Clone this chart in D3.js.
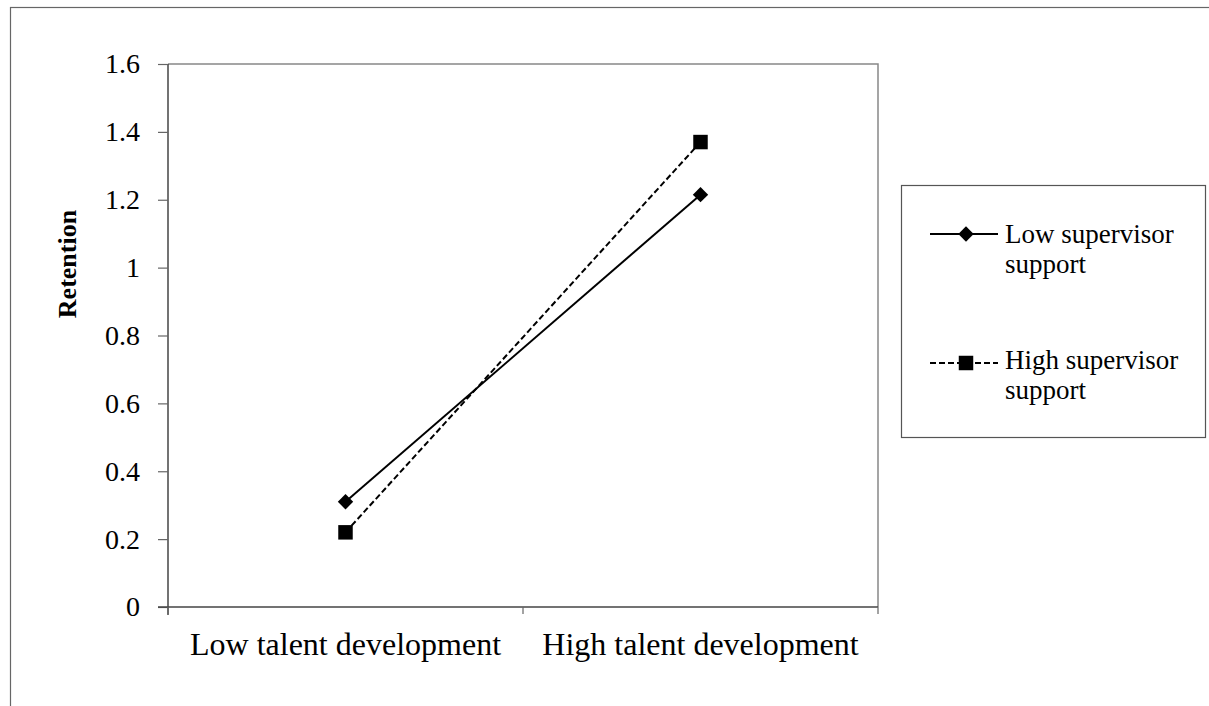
<!DOCTYPE html>
<html>
<head>
<meta charset="utf-8">
<script src="https://cdn.jsdelivr.net/npm/d3@7"></script>
<style>
  body { margin: 0; background: #fff; }
  svg { display: block; font-family: "Liberation Serif", "Times New Roman", serif; }
</style>
</head>
<body>
<div id="chart"></div>
<script>
var categories = ['Low talent development', 'High talent development'];
var seriesNames = ['Low supervisor support', 'High supervisor support'];
var lowSupport = [0.31, 1.215];
var highSupport = [0.22, 1.37];
var yTicks = [0, 0.2, 0.4, 0.6, 0.8, 1, 1.2, 1.4, 1.6];

var width = 1209, height = 706;
var plot = { left: 168, top: 64, right: 878, bottom: 607 };

var svg = d3.select('#chart').append('svg')
    .attr('width', width)
    .attr('height', height);

// outer frame (runs off the right and bottom edges)
svg.append('rect')
    .attr('x', 10.5).attr('y', 7.5)
    .attr('width', 1220).attr('height', 720)
    .attr('fill', 'none').attr('stroke', '#666').attr('stroke-width', 1.2);

var x = d3.scaleBand().domain(categories).range([plot.left, plot.right]);
var y = d3.scaleLinear().domain([0, 1.6]).range([plot.bottom, plot.top]);

// plot area border (top and right)
svg.append('path')
    .attr('d', 'M' + plot.left + ',' + plot.top + 'H' + plot.right + 'V' + plot.bottom)
    .attr('fill', 'none').attr('stroke', '#888').attr('stroke-width', 1.5);

// y axis
var yAxis = svg.append('g')
    .attr('transform', 'translate(' + plot.left + ',0)')
    .call(d3.axisLeft(y).tickValues(yTicks).tickSize(10).tickPadding(18)
        .tickFormat(function(d) { return d3.format('')(d); }));
yAxis.select('.domain').attr('stroke', '#444').attr('stroke-width', 1.5)
    .attr('d', 'M0,' + plot.top + 'V' + (plot.bottom + 8));
yAxis.selectAll('.tick line').attr('stroke', '#666').attr('stroke-width', 1.2);
yAxis.selectAll('.tick text').attr('font-size', 28).attr('fill', '#000')
    .attr('font-family', '"Liberation Serif", serif');

// x axis
var xAxis = svg.append('g')
    .attr('transform', 'translate(0,' + plot.bottom + ')')
    .call(d3.axisBottom(x).tickSize(0).tickPadding(25));
xAxis.select('.domain').attr('stroke', '#444').attr('stroke-width', 1.5)
    .attr('d', 'M' + (plot.left - 10) + ',0H' + plot.right);
xAxis.selectAll('.tick text').attr('font-size', 32).attr('fill', '#000')
    .attr('font-family', '"Liberation Serif", serif');
// category separator ticks
var edges = [plot.left, plot.left + x.bandwidth(), plot.right];
xAxis.selectAll('.sep').data(edges).enter().append('line')
    .attr('x1', function(d) { return d; }).attr('x2', function(d) { return d; })
    .attr('y1', 0).attr('y2', 7)
    .attr('stroke', '#666').attr('stroke-width', 1.2);

// y axis title
svg.append('text')
    .attr('transform', 'translate(76,264) rotate(-90)')
    .attr('text-anchor', 'middle')
    .attr('font-size', 26).attr('font-weight', 'bold')
    .text('Retention');

var cx = function(i) { return x(categories[i]) + x.bandwidth() / 2; };
var line = d3.line().x(function(d, i) { return cx(i); }).y(function(d) { return y(d); });

var diamond = d3.symbol().type(d3.symbolDiamond2).size(150);
var square = d3.symbol().type(d3.symbolSquare).size(210);

// low supervisor support (solid, diamond)
svg.append('path').datum(lowSupport)
    .attr('d', line).attr('fill', 'none')
    .attr('stroke', '#000').attr('stroke-width', 2);
svg.selectAll('.low-pt').data(lowSupport).enter().append('path')
    .attr('transform', function(d, i) { return 'translate(' + cx(i) + ',' + y(d) + ')'; })
    .attr('d', diamond).attr('fill', '#000');

// high supervisor support (dashed, square)
svg.append('path').datum(highSupport)
    .attr('d', line).attr('fill', 'none')
    .attr('stroke', '#000').attr('stroke-width', 2)
    .attr('stroke-dasharray', '6,3');
svg.selectAll('.high-pt').data(highSupport).enter().append('path')
    .attr('transform', function(d, i) { return 'translate(' + cx(i) + ',' + y(d) + ')'; })
    .attr('d', square).attr('fill', '#000');

// legend
var legend = svg.append('g');
legend.append('rect')
    .attr('x', 901.5).attr('y', 185.5).attr('width', 304).attr('height', 252)
    .attr('fill', '#fff').attr('stroke', '#555').attr('stroke-width', 1.2);

var legendItems = [
  { lines: ['Low supervisor', 'support'], dash: null, sym: diamond, y: 234, base: 243 },
  { lines: ['High supervisor', 'support'], dash: '6,3', sym: square, y: 363, base: 369 }
];
legendItems.forEach(function(item) {
  legend.append('line')
      .attr('x1', 930).attr('x2', 998).attr('y1', item.y).attr('y2', item.y)
      .attr('stroke', '#000').attr('stroke-width', 2)
      .attr('stroke-dasharray', item.dash);
  legend.append('path')
      .attr('transform', 'translate(966,' + item.y + ')')
      .attr('d', item.sym).attr('fill', '#000');
  var t = legend.append('text')
      .attr('x', 1005).attr('y', item.base)
      .attr('font-size', 27);
  item.lines.forEach(function(s, i) {
    t.append('tspan').attr('x', 1005).attr('dy', i === 0 ? 0 : 30).text(s);
  });
});
</script>
</body>
</html>
